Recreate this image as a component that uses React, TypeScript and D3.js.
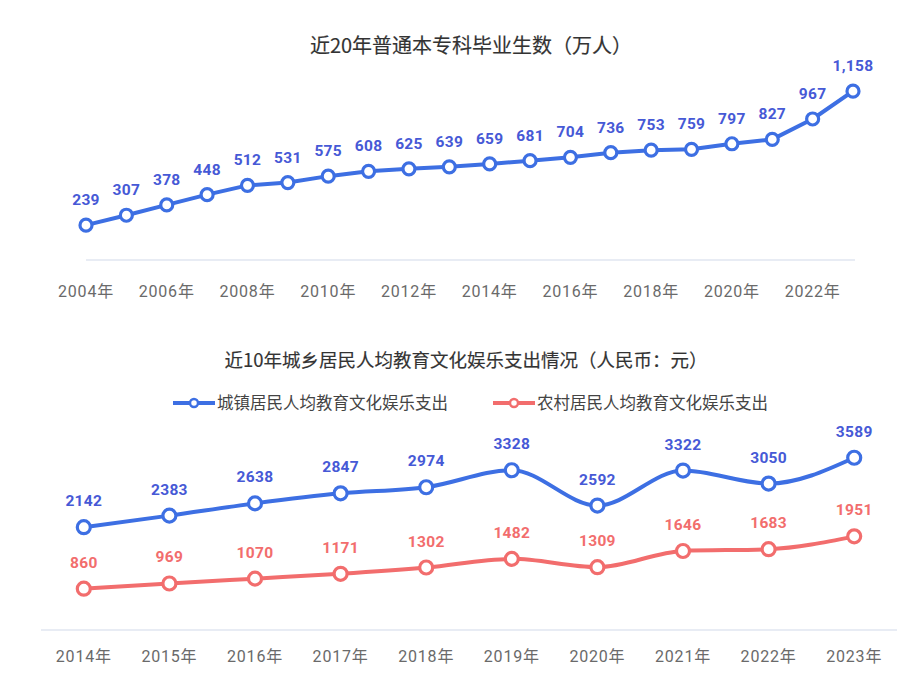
import React from "react";
import * as d3 from "d3";

const gradYears = ["2004","2005","2006","2007","2008","2009","2010","2011","2012","2013","2014","2015","2016","2017","2018","2019","2020","2021","2022","2023"];
const gradValues = [239,307,378,448,512,531,575,608,625,639,659,681,704,736,753,759,797,827,967,1158];
const gradTickYears = ["2004","2006","2008","2010","2012","2014","2016","2018","2020","2022"];

const spendYears = ["2014","2015","2016","2017","2018","2019","2020","2021","2022","2023"];
const urbanValues = [2142,2383,2638,2847,2974,3328,2592,3322,3050,3589];
const ruralValues = [860,969,1070,1171,1302,1482,1309,1646,1683,1951];
const seriesNames = ["城镇居民人均教育文化娱乐支出","农村居民人均教育文化娱乐支出"];

const title1 = "近20年普通本专科毕业生数（万人）";
const title2 = "近10年城乡居民人均教育文化娱乐支出情况（人民币：元）";

const BLUE = "#3d6fe3";
const BLUE_LABEL = "#4659d6";
const RED = "#f26d6d";
const AXIS = "#e0e6f1";
const TICK = "#6a6a6a";
const FONT = "'Noto Sans CJK SC', 'Noto Sans', sans-serif";
const TICKFONT = "Roboto, 'Noto Sans CJK SC', sans-serif";
const NUMFONT = "Roboto, 'Noto Sans', sans-serif";

export default function App() {
  // top chart
  const x1 = d3.scalePoint<string>().domain(gradYears).range([86, 853]);
  const y1 = d3.scaleLinear().domain([0, 1200]).range([260, 85]);
  const line1 = d3.line<number>().x((_, i) => x1(gradYears[i])!).y((d) => y1(d)).curve(d3.curveLinear);
  const fmt = d3.format(",");

  // bottom chart
  const x2 = d3.scalePoint<string>().domain(spendYears).range([41, 897]).padding(0.5);
  const y2 = d3.scaleLinear().domain([0, 4000]).range([630, 438]);
  const line2 = d3.line<number>().x((_, i) => x2(spendYears[i])!).y((d) => y2(d)).curve(d3.curveMonotoneX);

  const series = [
    { name: seriesNames[0], values: urbanValues, color: BLUE, label: BLUE_LABEL },
    { name: seriesNames[1], values: ruralValues, color: RED, label: RED },
  ];
  const legendX = [173, 493];

  return (
    <svg width={918} height={680} style={{ position: "absolute", left: 0, top: 0, background: "#fff" }}>
      <rect width={918} height={680} fill="#fff" />
      {/* Top chart */}
      <text x={471} y={53} textAnchor="middle" fontFamily={FONT} fontSize={20} fontWeight={400} fill="#333" stroke="#333" strokeWidth={0.15}>{title1}</text>
      <line x1={86} x2={855} y1={260} y2={260} stroke={AXIS} strokeWidth={1.5} />
      {gradTickYears.map((yr) => (
        <text key={yr} x={x1(yr)} y={297} textAnchor="middle" fontFamily={TICKFONT} fontSize={16} letterSpacing={0.8} fill={TICK}>{yr}年</text>
      ))}
      <path d={line1(gradValues) || ""} fill="none" stroke={BLUE} strokeWidth={4} strokeLinejoin="round" />
      {gradValues.map((v, i) => (
        <g key={i}>
          <circle cx={x1(gradYears[i])} cy={y1(v)} r={6} fill="#fff" stroke={BLUE} strokeWidth={3.2} />
          <text x={x1(gradYears[i])} y={y1(v) - 20} textAnchor="middle" fontFamily={NUMFONT} fontWeight={700} fontSize={15.5} letterSpacing={0.3} fill={BLUE_LABEL}>{fmt(v)}</text>
        </g>
      ))}

      {/* Bottom chart */}
      <text x={466} y={367} textAnchor="middle" fontFamily={FONT} fontSize={18.5} fontWeight={400} fill="#333" stroke="#333" strokeWidth={0.15}>{title2}</text>
      {series.map((s, k) => (
        <g key={s.name}>
          <line x1={legendX[k]} x2={legendX[k] + 42} y1={403} y2={403} stroke={s.color} strokeWidth={4} />
          <circle cx={legendX[k] + 21} cy={403} r={4} fill="#fff" stroke={s.color} strokeWidth={2.5} />
          <text x={legendX[k] + 44} y={409} fontFamily={FONT} fontSize={16.5} fill="#444">{s.name}</text>
        </g>
      ))}
      <line x1={41} x2={897} y1={630} y2={630} stroke={AXIS} strokeWidth={1.5} />
      {spendYears.map((yr) => (
        <text key={yr} x={x2(yr)} y={662} textAnchor="middle" fontFamily={TICKFONT} fontSize={16} letterSpacing={0.8} fill={TICK}>{yr}年</text>
      ))}
      {series.map((s) => (
        <g key={s.name + "-line"}>
          <path d={line2(s.values) || ""} fill="none" stroke={s.color} strokeWidth={4} strokeLinejoin="round" />
          {s.values.map((v, i) => (
            <g key={i}>
              <circle cx={x2(spendYears[i])} cy={y2(v)} r={6.5} fill="#fff" stroke={s.color} strokeWidth={3.2} />
              <text x={x2(spendYears[i])} y={y2(v) - 21} textAnchor="middle" fontFamily={NUMFONT} fontWeight={700} fontSize={15.5} letterSpacing={0.3} fill={s.label}>{v}</text>
            </g>
          ))}
        </g>
      ))}
    </svg>
  );
}
